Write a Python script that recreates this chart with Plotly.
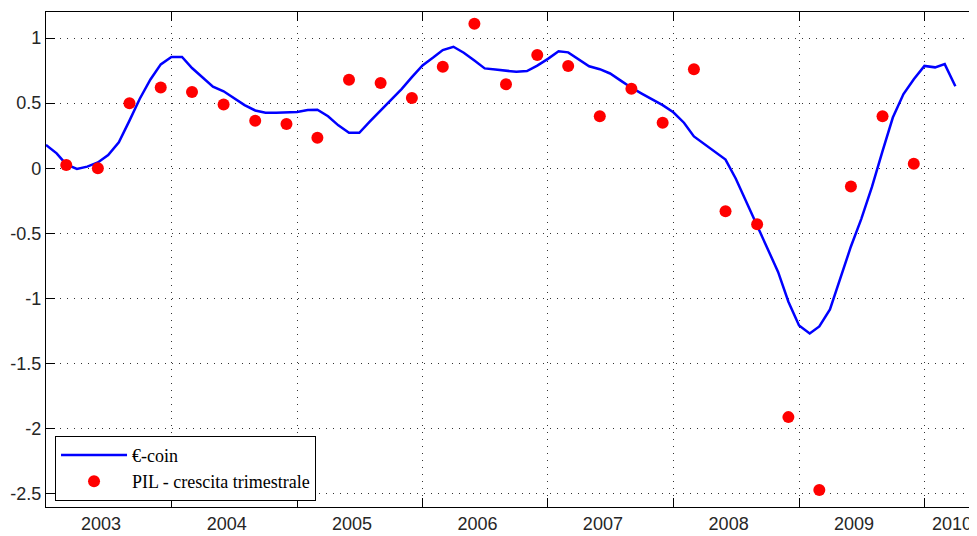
import plotly.graph_objects as go
import pandas as pd

# Euro-coin monthly indicator, Jan 2003 - Apr 2010
ecoin_dates = pd.date_range("2003-01-01", "2010-04-01", freq="MS")
ecoin = [
    0.18, 0.115, 0.03, -0.005, 0.013, 0.045, 0.102, 0.20, 0.366, 0.534, 0.682, 0.798,   # 2003
    0.855, 0.855, 0.77, 0.698, 0.627, 0.591, 0.542, 0.485, 0.444, 0.427, 0.427, 0.427,  # 2004
    0.432, 0.448, 0.45, 0.40, 0.33, 0.273, 0.273, 0.36, 0.443, 0.523, 0.608, 0.70,      # 2005
    0.79, 0.85, 0.908, 0.933, 0.887, 0.827, 0.767, 0.758, 0.75, 0.741, 0.747, 0.788,    # 2006
    0.84, 0.898, 0.89, 0.837, 0.783, 0.761, 0.728, 0.673, 0.619, 0.574, 0.531, 0.485,   # 2007
    0.43, 0.35, 0.245, 0.185, 0.13, 0.067, -0.08, -0.26, -0.444, -0.614, -0.795, -1.024,  # 2008
    -1.207, -1.268, -1.214, -1.083, -0.85, -0.60, -0.39, -0.145, 0.132, 0.39, 0.57, 0.684,  # 2009
    0.786, 0.775, 0.80, 0.63,                                                            # 2010
]

# PIL quarterly growth, 2003Q1 - 2009Q4
pil_dates = [f"{y}-{m:02d}-01" for y in range(2003, 2010) for m in (3, 6, 9, 12)]
pil = [
    0.025, 0.0, 0.50, 0.62,
    0.585, 0.49, 0.365, 0.34,
    0.235, 0.68, 0.655, 0.54,
    0.78, 1.11, 0.645, 0.87,
    0.785, 0.40, 0.61, 0.35,
    0.76, -0.33, -0.43, -1.91,
    -2.47, -0.14, 0.40, 0.035,
]

year_labels = ["2003", "2004", "2005", "2006", "2007", "2008", "2009", "2010"]
year_label_pos = ["2003-06-10", "2004-06-10", "2005-06-10", "2006-06-10",
                  "2007-06-10", "2008-06-10", "2009-06-10", "2010-03-22"]
year_bounds = [f"{y}-01-01" for y in range(2004, 2011)]

y_ticks = [1, 0.5, 0, -0.5, -1, -1.5, -2, -2.5]
y_ticktext = ["1", "0.5", "0", "-0.5", "-1", "-1.5", "-2", "-2.5"]

fig = go.Figure()
fig.add_trace(go.Scatter(
    x=ecoin_dates, y=ecoin, mode="lines", name="€-coin",
    line=dict(color="#0000FF", width=2.5),
))
fig.add_trace(go.Scatter(
    x=pil_dates, y=pil, mode="markers", name="PIL - crescita trimestrale",
    marker=dict(color="#FF0000", size=12, line=dict(width=0)),
))

grid_dash = "1px,6px"
# the page body adds an 8px offset, so the figure is 8px smaller than the window
fig.update_layout(
    width=969, height=528,
    margin=dict(l=38, r=0, t=4, b=29, autoexpand=False),
    paper_bgcolor="white", plot_bgcolor="white",
    showlegend=True,
    legend=dict(
        x=0.0097, y=0.0127, xanchor="left", yanchor="bottom",
        bgcolor="white", bordercolor="black", borderwidth=1,
        font=dict(family="Liberation Serif", size=18, color="black"),
        itemwidth=66,
    ),
    xaxis=dict(
        type="date", range=["2003-01-01", "2010-06-03"],
        tickmode="array", tickvals=year_label_pos, ticktext=year_labels,
        ticks="", showgrid=False, zeroline=False,
        showline=True, linecolor="black", linewidth=1.3, mirror="ticks",
        tickfont=dict(family="Liberation Sans", size=18, color="#262626"),
        minor=dict(
            tickmode="array", tickvals=year_bounds,
            ticks="inside", ticklen=9, tickcolor="black", tickwidth=1.3,
            showgrid=True, gridcolor="#333333", gridwidth=1, griddash=grid_dash,
        ),
    ),
    yaxis=dict(
        range=[-2.6, 1.2],
        tickmode="array", tickvals=y_ticks, ticktext=y_ticktext,
        ticks="inside", ticklen=9, tickcolor="black", tickwidth=1.3,
        showgrid=True, gridcolor="#333333", gridwidth=1, griddash=grid_dash,
        zeroline=False,
        showline=True, linecolor="black", linewidth=1.3, mirror=False,
        tickfont=dict(family="Liberation Sans", size=18, color="#262626"),
    ),
)

fig.write_html("out.html")
